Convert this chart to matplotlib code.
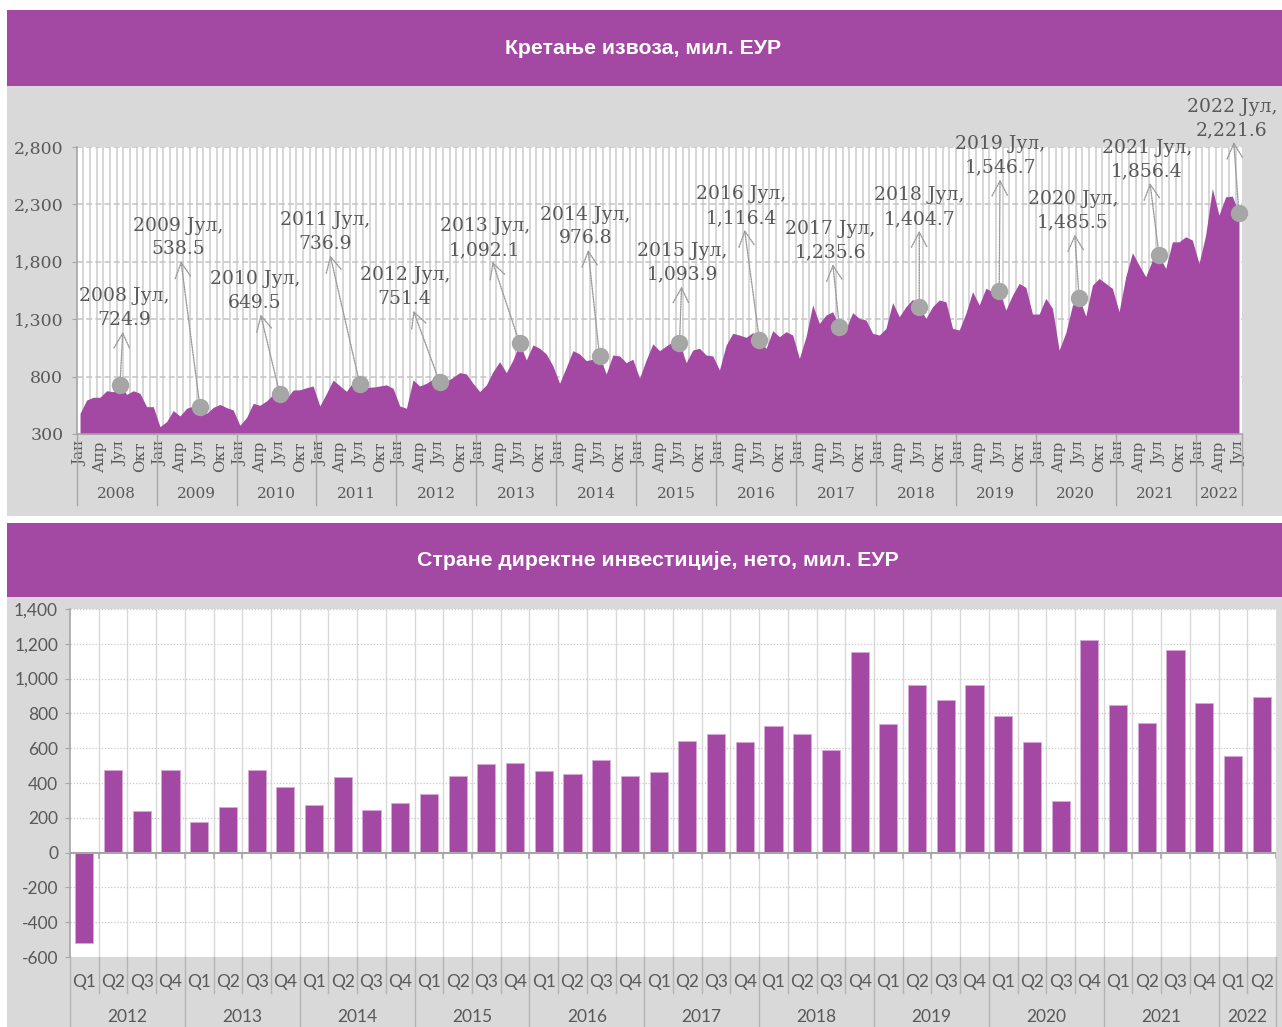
import matplotlib
matplotlib.use('Agg')
import matplotlib.pyplot as plt
from matplotlib.patches import Rectangle
from matplotlib.transforms import blended_transform_factory
import numpy as np

W, H = 1282, 1027
PURPLE = '#A349A4'
GRAY_BG = '#D9D9D9'
TEXT = '#595959'
SERIF = 'DejaVu Serif'
SANS = 'Lato'

# ---------------- data ----------------
export_title = 'Кретање извоза, мил. ЕУР'
fdi_title = 'Стране директне инвестиције, нето, мил. ЕУР'

month_names = ['Јан', 'Феб', 'Мар', 'Апр', 'Мај', 'Јун',
               'Јул', 'Авг', 'Сеп', 'Окт', 'Нов', 'Дец']
export_years = list(range(2008, 2023))

exports_2008 = [480, 596, 620, 620, 677, 668, 724.9, 645, 677, 654, 538, 538]
exports_2009 = [364, 408, 504, 457, 524, 544, 538.5, 480, 532, 558, 530, 509]
exports_2010 = [376, 443, 567, 550, 588, 646, 649.5, 610, 683, 685, 703, 718]
exports_2011 = [544, 654, 770, 720, 672, 752, 736.9, 706, 709, 718, 728, 698]
exports_2012 = [544, 524, 771, 718, 742, 778, 751.4, 756, 794, 835, 823, 742]
exports_2013 = [670, 727, 843, 930, 835, 945, 1092.1, 945, 1076, 1047, 997, 893]
exports_2014 = [742, 881, 1026, 997, 939, 951, 976.8, 823, 988, 980, 922, 951]
exports_2015 = [786, 945, 1085, 1026, 1067, 1105, 1093.9, 922, 1032, 1046, 988, 980]
exports_2016 = [858, 1075, 1177, 1162, 1142, 1183, 1116.4, 1046, 1200, 1148, 1191, 1162]
exports_2017 = [959, 1148, 1424, 1264, 1336, 1365, 1235.6, 1215, 1357, 1307, 1293, 1177]
exports_2018 = [1162, 1220, 1444, 1322, 1409, 1473, 1404.7, 1307, 1409, 1467, 1452, 1220]
exports_2019 = [1206, 1351, 1540, 1424, 1569, 1540, 1546.7, 1380, 1510, 1612, 1577, 1345]
exports_2020 = [1345, 1482, 1394, 1031, 1182, 1423, 1485.5, 1327, 1597, 1655, 1612, 1568]
exports_2021 = [1365, 1670, 1879, 1771, 1670, 1815, 1856.4, 1742, 1974, 1974, 2018, 1989]
exports_2022 = [1786, 2033, 2439, 2207, 2366, 2372, 2221.6]

exports = (exports_2008 + exports_2009 + exports_2010 + exports_2011 + exports_2012
           + exports_2013 + exports_2014 + exports_2015 + exports_2016 + exports_2017
           + exports_2018 + exports_2019 + exports_2020 + exports_2021 + exports_2022)

export_yticks = [300, 800, 1300, 1800, 2300, 2800]

# label offsets (pixels) of the July annotations relative to their points
label_dx = [4, -22, -25, -35, -35, -35, -14, 3, -18, -9, 0, 1, -6, -12, -7]
label_dy = [77, 169, 103, 152, 95, 105, 130, 80, 134, 86, 100, 135, 87, 96, 95]

fdi_years = list(range(2012, 2023))
quarters = ['Q1', 'Q2', 'Q3', 'Q4']
fdi = [-521, 473, 240, 473,
       175, 263, 476, 376,
       271, 432, 242, 284,
       338, 440, 509, 513,
       469, 453, 532, 442,
       461, 640, 680, 636,
       728, 682, 588, 1155,
       740, 964, 878, 966,
       784, 634, 296, 1222,
       851, 745, 1164, 861,
       557, 897]
fdi_yticks = list(range(-600, 1401, 200))

# ---------------- figure ----------------
fig = plt.figure(figsize=(W / 100, H / 100), dpi=100)
fig.patch.set_facecolor('white')


def rect_px(x0, y0, x1, y1):
    return [x0 / W, 1 - y1 / H, (x1 - x0) / W, (y1 - y0) / H]


def band(x0, y0, x1, y1, color):
    fig.add_artist(Rectangle((x0 / W, 1 - y1 / H), (x1 - x0) / W, (y1 - y0) / H,
                             transform=fig.transFigure, facecolor=color,
                             edgecolor='none', zorder=-5))


band(7, 10, 1282, 86, PURPLE)
band(7, 86, 1282, 516, GRAY_BG)
band(7, 523, 1282, 597, PURPLE)
band(7, 597, 1282, 1027, GRAY_BG)

fig.text(643 / W, 1 - 49 / H, export_title, ha='center', va='center', color='white',
         fontweight='bold', fontsize=15.3, family='Liberation Sans')
fig.text(658 / W, 1 - 560 / H, fdi_title, ha='center', va='center', color='white',
         fontweight='bold', fontsize=15.3, family='Liberation Sans')

# ---------------- top: exports area ----------------
ax1 = fig.add_axes(rect_px(76.7, 147, 1242.3, 434))
ax1.set_facecolor('white')
n = len(exports)
x = np.arange(n)
ax1.set_xlim(-0.5, n - 0.5)
ax1.set_ylim(300, 2800)

for b in np.arange(0.5, n - 1, 1):
    ax1.axvline(b, color='#D6D6D6', lw=1.4, zorder=1)
for v in export_yticks[1:]:
    ax1.axhline(v, color='#C4C4C4', lw=1.1, ls=(0, (4, 2)), zorder=1.5)

ax1.fill_between(x, exports, 300, color=PURPLE, lw=0, zorder=2)

for s in ['top', 'right']:
    ax1.spines[s].set_visible(False)
for s in ['left', 'bottom']:
    ax1.spines[s].set_color('#A6A6A6')
    ax1.spines[s].set_linewidth(1.2)

ax1.set_yticks(export_yticks)
ax1.set_yticklabels([f'{v:,}' for v in export_yticks], fontfamily=SERIF,
                    fontsize=12.5, color=TEXT)
ax1.tick_params(axis='y', length=3.6, color='#A6A6A6', pad=6)

tick_pos = list(range(0, n, 3))
ax1.set_xticks(tick_pos)
ax1.set_xticklabels([month_names[i % 12] for i in tick_pos], rotation=90,
                    fontfamily=SERIF, fontsize=11, color=TEXT)
ax1.tick_params(axis='x', length=0, pad=5)

trans1 = blended_transform_factory(ax1.transData, ax1.transAxes)
bounds1 = [12 * k - 0.5 for k in range(len(export_years))] + [n - 0.5]
for b in bounds1:
    ax1.plot([b, b], [0, -0.247], transform=trans1, color='#A6A6A6', lw=1,
             clip_on=False, zorder=3)
for k, yr in enumerate(export_years):
    c = (bounds1[k] + bounds1[k + 1]) / 2
    ax1.text(c, -0.209, str(yr), transform=trans1, ha='center', va='center',
             fontfamily=SERIF, fontsize=11, color=TEXT)

july_idx = [12 * k + 6 for k in range(len(export_years))]
july_vals = [exports[i] for i in july_idx]
ax1.plot(july_idx, july_vals, 'o', ms=11.5, color='#A6A6A6', zorder=6, clip_on=False)
for k, yr in enumerate(export_years):
    ax1.annotate(f'{yr} Јул,\n{july_vals[k]:,.1f}', xy=(july_idx[k], july_vals[k]),
                 xytext=(label_dx[k], label_dy[k]), textcoords='offset pixels',
                 ha='center', va='center', multialignment='center',
                 fontsize=13.5, fontfamily=SERIF, color=TEXT, linespacing=1.4,
                 annotation_clip=False, zorder=5,
                 arrowprops=dict(arrowstyle='<-, head_length=0.8, head_width=0.42',
                                 color='#9A9A9A', lw=1, linestyle=(0, (1, 0.9)),
                                 shrinkA=0, shrinkB=0))

# ---------------- bottom: FDI bars ----------------
ax2 = fig.add_axes(rect_px(70, 609, 1276, 957))
ax2.set_facecolor('white')
m = len(fdi)
ax2.set_xlim(-0.5, m - 0.5)
ax2.set_ylim(-600, 1400)

for b in np.arange(0.5, m - 1, 1):
    ax2.axvline(b, color='#D9D9D9', lw=1, zorder=1)
for v in fdi_yticks:
    if v != 0:
        ax2.axhline(v, color='#C8C8C8', lw=0.9, ls=(0, (1, 1.5)), zorder=1)

ax2.bar(np.arange(m), fdi, width=0.63, color=PURPLE, edgecolor='#D7A9D7',
        linewidth=0.6, zorder=3)
ax2.axhline(0, color='#A6A6A6', lw=1.5, zorder=4)
for b in np.arange(-0.5, m, 1):
    ax2.plot([b, b], [0, -30], color='#A6A6A6', lw=1.2, zorder=4)

for s in ['top', 'right', 'bottom']:
    ax2.spines[s].set_visible(False)
ax2.spines['left'].set_color('#A6A6A6')
ax2.spines['left'].set_linewidth(1.2)

ax2.set_yticks(fdi_yticks)
ax2.set_yticklabels([f'{v:,}' for v in fdi_yticks], fontfamily=SANS,
                    fontsize=12.5, color=TEXT)
ax2.tick_params(axis='y', length=3.6, color='#A6A6A6', pad=5)
ax2.set_xticks([])

trans2 = blended_transform_factory(ax2.transData, ax2.transAxes)
for i in range(m):
    ax2.text(i, -0.072, quarters[i % 4], transform=trans2, ha='center', va='center',
             fontfamily=SANS, fontsize=12.5, color=TEXT)
bounds2 = [4 * k - 0.5 for k in range(len(fdi_years))] + [m - 0.5]
for b in np.arange(-0.5, m, 1):
    is_year = any(abs(b - yb) < 1e-9 for yb in bounds2)
    ax2.plot([b, b], [0, -0.2011 if is_year else -0.1034], transform=trans2,
             color='#B4B4B4', lw=1, clip_on=False)
for k, yr in enumerate(fdi_years):
    c = (bounds2[k] + bounds2[k + 1]) / 2
    ax2.text(c, -0.1724, str(yr), transform=trans2, ha='center', va='center',
             fontfamily=SANS, fontsize=12.5, color=TEXT)

fig.savefig('out.png', dpi=100)
